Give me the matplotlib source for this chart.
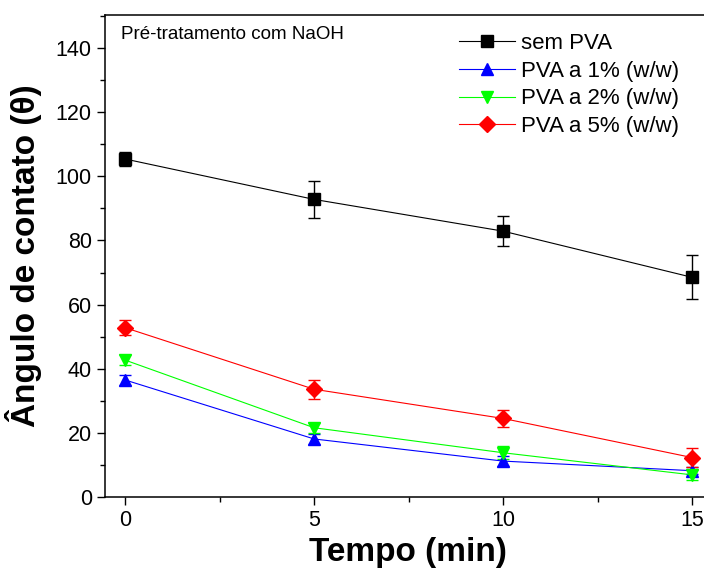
import matplotlib
matplotlib.use("Agg")
import matplotlib.pyplot as plt
from matplotlib.ticker import MultipleLocator

plt.rcParams['font.family'] = ['Liberation Sans', 'DejaVu Sans']

# tempo de tratamento (min)
tempo = [0, 5, 10, 15]

# angulo de contato medio e desvio para cada formulacao
sem_pva = [105.4, 92.8, 82.9, 68.5]
sem_pva_err = [2.3, 5.7, 4.7, 6.9]

pva_1 = [36.5, 18.1, 11.2, 8.2]
pva_1_err = [1.5, 1.5, 1.5, 1.0]

pva_2 = [42.7, 21.6, 13.8, 6.9]
pva_2_err = [1.5, 1.5, 2.0, 1.5]

pva_5 = [52.8, 33.6, 24.5, 12.3]
pva_5_err = [2.3, 3.0, 2.7, 3.0]

labels = ["sem PVA", "PVA a 1% (w/w)", "PVA a 2% (w/w)", "PVA a 5% (w/w)"]

fig = plt.figure(figsize=(7.04, 5.71), dpi=100)
ax = fig.add_axes([105 / 704, 1 - 497 / 571, 606 / 704, 482 / 571])

series = [
    (sem_pva, sem_pva_err, "black", "s", 8),
    (pva_1, pva_1_err, "#0000ff", "^", 9),
    (pva_2, pva_2_err, "#00ff00", "v", 9),
    (pva_5, pva_5_err, "#ff0000", "D", 8),
]

handles = []
for (vals, errs, color, marker, ms), label in zip(series, labels):
    eb = ax.errorbar(tempo, vals, yerr=errs, color=color, marker=marker, ms=ms,
                     lw=0.8, elinewidth=1.0, capsize=4, capthick=1.0, label=label)
    handles.append(eb[0])  # only the line+marker goes in the legend

ax.set_xlim(-0.53, 15.5)
ax.set_ylim(0, 150.3)
ax.xaxis.set_major_locator(MultipleLocator(5))
ax.xaxis.set_minor_locator(MultipleLocator(2.5))
ax.yaxis.set_major_locator(MultipleLocator(20))
ax.yaxis.set_minor_locator(MultipleLocator(10))
ax.tick_params(which='major', direction='out', length=6, width=1.0, labelsize=15.5)
ax.tick_params(which='minor', direction='out', length=3.5, width=1.0)
for s in ax.spines.values():
    s.set_linewidth(1.1)

ax.set_xlabel("Tempo (min)", fontsize=24, fontweight='bold', labelpad=4)
ax.set_ylabel("Ângulo de contato (θ)", fontsize=24, fontweight='bold', labelpad=10)

ax.text(0.026, 0.978, "Pré-tratamento com NaOH", transform=ax.transAxes,
        fontsize=13.5, ha='left', va='top')

ax.legend(handles, labels, loc='upper left', bbox_to_anchor=(459 / 704, 1 - 33 / 571),
          bbox_transform=fig.transFigure, frameon=False, fontsize=16,
          borderpad=0, borderaxespad=0, handlelength=2.5, handletextpad=0.3,
          labelspacing=0.3)

fig.savefig("out.png", dpi=100)
